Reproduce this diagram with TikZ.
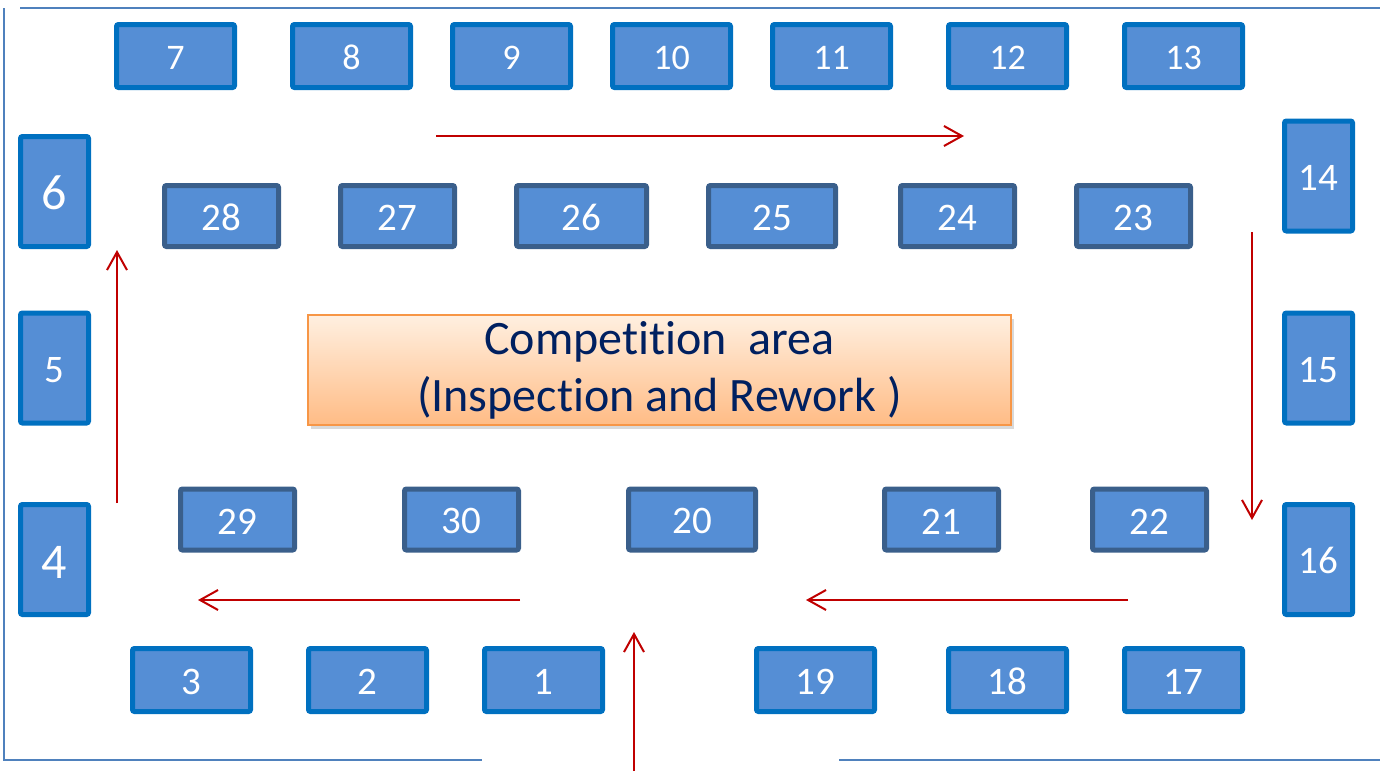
\documentclass[tikz,border=0pt]{standalone}
\usepackage{fontspec}
\setmainfont{Carlito}[Ligatures=NoCommon]
\usetikzlibrary{arrows.meta,shadows}
\definecolor{seatblue}{HTML}{558ED5}
\definecolor{seatedge}{HTML}{0070C0}
\definecolor{benchedge}{HTML}{3A5F8B}
\definecolor{frameblue}{HTML}{4F81BD}
\definecolor{flowred}{HTML}{C00000}
\definecolor{areatext}{HTML}{002060}
\definecolor{areaedge}{HTML}{F79646}
\tikzset{
  seat/.style={draw=seatedge,fill=seatblue,line width=5pt,rounded corners=2pt,
    text=white,minimum width=118pt,minimum height=63pt,inner sep=0pt,
    font=\fontsize{36}{42}\selectfont,text height=27pt},
  bigseat/.style={font=\fontsize{39}{46}\selectfont,text height=29pt},
  bench/.style={seat,bigseat,draw=benchedge,minimum width=114pt,minimum height=61pt},
  post/.style={seat,bigseat,minimum width=68pt,minimum height=110pt},
  bignum/.style={font=\fontsize{50}{58}\selectfont,text height=37pt},
  flow/.style={draw=flowred,line width=2pt,-{Straight Barb[length=18pt,width=20pt,line width=2pt]}},
  frame/.style={draw=frameblue,line width=1.5pt}
}
\begin{document}
\begin{tikzpicture}[x=1pt,y=-1pt]
        \useasboundingbox (0,0) rectangle (1380,771);
        %% Frame
        \draw[frame] (20,8) -- (1380,8);
        \draw[frame] (4,8) -- (4,760) -- (482,760);
        \draw[frame] (839,760) -- (1380,760);
        %% Outer row of stations
        \foreach \n/\px in {7/175.5,8/351.5,9/511.5,10/671.5,11/831.5,12/1007.5,13/1183.5}
            \node[seat] (s\n) at (\px,56) {\n};
        \foreach \n/\px in {3/191.5,2/367.5,1/543.5,19/815.5,18/1007.5,17/1183.5}
            \node[seat,bigseat] (s\n) at (\px,680) {\n};
        \node[post,bignum] (s6) at (54.5,191.5) {6};
        \node[post] (s5) at (54.5,368) {5};
        \node[post,bignum] (s4) at (54.5,559.5) {4};
        \node[post] (s14) at (1318.5,176) {14};
        \node[post] (s15) at (1318.5,368) {15};
        \node[post] (s16) at (1318.5,559.5) {16};
        %% Inner benches
        \foreach \n/\px/\w in {28/221.5/114,27/397.5/114,26/581.5/130,25/772/127,24/957.5/114,23/1133.5/114}
            \node[bench,minimum width=\w pt] (s\n) at (\px,216) {\n};
        \foreach \n/\px/\w in {29/237.5/114,30/461.5/114,20/692/127,21/941.5/114,22/1149.5/114}
            \node[bench,minimum width=\w pt] (s\n) at (\px,519.5) {\n};
        %% Competition area
        \node[draw=areaedge,line width=2pt,top color=orange!12!white,bottom color=orange!45!white!95!red,
              drop shadow={shadow xshift=3pt,shadow yshift=-4pt,opacity=0.3},
              minimum width=703pt,minimum height=110pt,align=center,text=areatext,
              font=\fontsize{48}{57}\selectfont] (area) at (659.5,370)
              {Competition~ area\\(Inspection and Rework )};
        %% Flow arrows
        \coordinate (ta) at (436,136);  \coordinate (tb) at (964,136);
        \coordinate (ra) at (1252,232); \coordinate (rb) at (1252,520);
        \coordinate (ba) at (1128,600); \coordinate (bb) at (806,600);
        \coordinate (ca) at (520,600);  \coordinate (cb) at (198,600);
        \coordinate (la) at (117,503);  \coordinate (lb) at (117,250);
        \coordinate (ea) at (634,771);  \coordinate (eb) at (634,632);
        \draw[flow] (ta) -- (tb);
        \draw[flow] (ra) -- (rb);
        \draw[flow] (ba) -- (bb);
        \draw[flow] (ca) -- (cb);
        \draw[flow] (la) -- (lb);
        \draw[flow] (ea) -- (eb);
    \end{tikzpicture}
\end{document}
